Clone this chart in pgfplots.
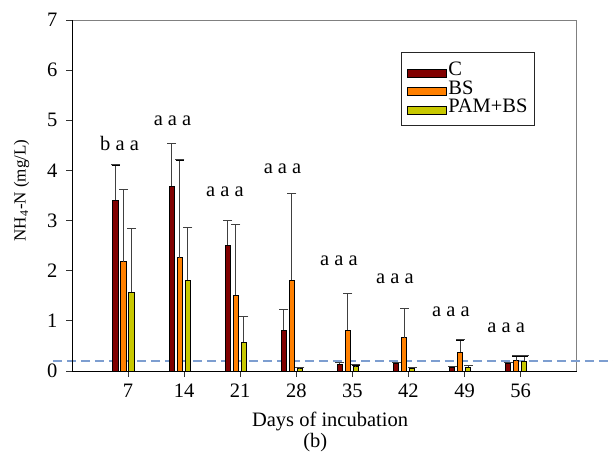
\documentclass[border=0pt]{standalone}
\usepackage{fontspec}
\setmainfont{Liberation Serif}
\usepackage{pgfplots}
\usepackage{pgfplotstable}
\pgfplotsset{compat=1.18}
\definecolor{cC}{RGB}{128,0,0}
\definecolor{cBS}{RGB}{255,128,0}
\definecolor{cPB}{RGB}{200,200,0}
\definecolor{refline}{RGB}{125,158,208}

% bars sit left of each tick: C at day-1.55, BS at day-0.55, PAM+BS at day+0.45
\pgfplotstableread{
x     y     e
5.45  3.41  0.70
12.45 3.68  0.86
19.45 2.51  0.50
26.45 0.81  0.41
33.45 0.13  0.04
40.45 0.15  0.02
47.45 0.07  0.02
54.45 0.15  0.02
}\dataC
\pgfplotstableread{
x     y     e
6.45  2.18  1.44
13.45 2.26  1.95
20.45 1.51  1.42
27.45 1.81  1.74
34.45 0.81  0.73
41.45 0.66  0.58
48.45 0.37  0.25
55.45 0.20  0.10
}\dataBS
\pgfplotstableread{
x     y     e
7.45  1.57  1.28
14.45 1.81  1.06
21.45 0.57  0.51
28.45 0.04  0.03
35.45 0.08  0.04
42.45 0.05  0.02
49.45 0.07  0.04
56.45 0.19  0.11
}\dataPB

\pgfplotsset{
  mybar/.style={ybar, bar width=0.68, bar shift=0pt, draw=black, line width=0.5pt,
    legend image code/.code={\draw[##1] (0pt,-3.5pt) rectangle (19.5pt,0.5pt);}},
  myerr/.style={forget plot, draw=none, mark=none,
    error bars/.cd, y dir=plus, y explicit,
    error bar style={draw=black!75, line width=0.5pt}},
  mycap/.style={forget plot, only marks, mark=-, mark size=2.25pt, black!75,
    mark options={line width=0.5pt}},
}

\begin{document}
\begin{tikzpicture}
\useasboundingbox (-36pt,-44.5pt) rectangle (270.5pt,185.5pt);
\begin{axis}[
  at={(0,0)}, anchor=south west,
  scale only axis, width=252.35pt, height=175.5pt,
  xmin=0, xmax=63, ymin=0, ymax=7,
  xtick={7,14,...,56}, ytick={0,1,...,7},
  tick align=outside, xtick pos=left, ytick pos=left,
  major tick length=3pt,
  major tick style={black!80, line width=0.5pt},
  axis line style={black!50, line width=0.5pt},
  clip=false,
  /pgf/number format/assume math mode=true,
  tick label style={font=\fontsize{10.25}{12}\selectfont},
  yticklabel style={xshift=-0.8pt},
  xlabel={Days of incubation},
  xlabel style={font=\fontsize{10.25}{12}\selectfont, xshift=2.85pt},
  ylabel={NH\textsubscript{4}-N (mg/L)},
  ylabel style={font=\fontsize{8.5}{10}\selectfont, yshift=2pt, xshift=2.5pt},
  legend style={at={(0.652,0.91)}, anchor=north west, draw=black!85, line width=0.5pt,
    font=\fontsize{10.25}{12}\selectfont, inner xsep=2.6pt, inner ysep=4pt,
    nodes={inner xsep=0.8pt, inner ysep=1pt}, row sep=-1pt, cells={anchor=west}},
]
% reference line
\addplot[forget plot, refline, line width=1pt, dash pattern=on 4.5pt off 2.5pt]
  coordinates {(-2.4,0.2) (70,0.2)};

\addplot[fill=cC, mybar] table[x=x, y=y] {\dataC};
\addplot[fill=cBS, mybar] table[x=x, y=y] {\dataBS};
\addplot[fill=cPB, mybar] table[x=x, y=y] {\dataPB};
\legend{C, BS, PAM+BS}

% error bars (upper only) and their caps
\addplot[myerr] table[x=x, y=y, y error=e] {\dataC};
\addplot[myerr] table[x=x, y=y, y error=e] {\dataBS};
\addplot[myerr] table[x=x, y=y, y error=e] {\dataPB};
\addplot[mycap] table[x=x, y expr=\thisrow{y}+\thisrow{e}] {\dataC};
\addplot[mycap] table[x=x, y expr=\thisrow{y}+\thisrow{e}] {\dataBS};
\addplot[mycap] table[x=x, y expr=\thisrow{y}+\thisrow{e}] {\dataPB};

% significance letters
\addplot[forget plot, only marks, mark=none, nodes near coords, point meta=explicit symbolic,
  nodes near coords align=center,
  every node near coord/.style={font=\fontsize{10.25}{12}\selectfont, inner sep=0pt, anchor=center}]
  coordinates {
  (5.93,4.54) [b a a]
  (12.55,4.99) [a a a]
  (19.1,3.58) [a a a]
  (26.28,4.04) [a a a]
  (33.33,2.19) [a a a]
  (40.3,1.83) [a a a]
  (47.3,1.18) [a a a]
  (54.2,0.86) [a a a]
};

\draw[black, line width=0.5pt] (rel axis cs:0,1) -- (rel axis cs:0,0) -- (rel axis cs:1,0);
\node[font=\fontsize{10.25}{12}\selectfont, anchor=south] at ([yshift=-44.2pt]rel axis cs:0.482,0) {(b)};
\end{axis}
\end{tikzpicture}
\end{document}
